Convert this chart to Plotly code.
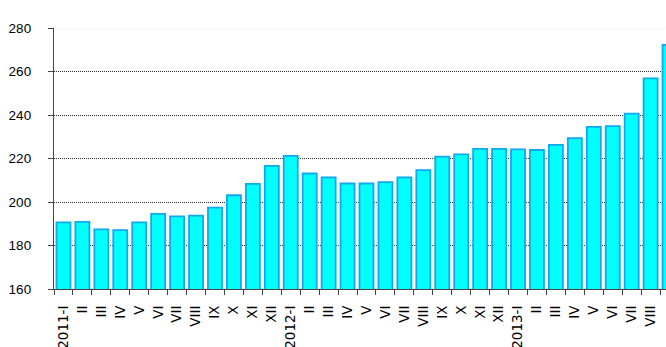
import plotly.graph_objects as go

roman = ["I", "II", "III", "IV", "V", "VI", "VII", "VIII", "IX", "X", "XI", "XII"]
years = ["2011", "2012", "2013"]

values_2011 = [190.6, 190.9, 187.4, 187.1, 190.6, 194.5, 193.4, 193.7, 197.4, 203.1, 208.3, 216.6]
values_2012 = [221.2, 213.1, 211.3, 208.5, 208.5, 209.1, 211.3, 214.7, 220.9, 221.9, 224.4, 224.4]
values_2013 = [224.2, 223.9, 226.3, 229.4, 234.5, 234.9, 240.6, 256.8, 272.2]

keys = []
labels = []
vals = []
for y, series in zip(years, [values_2011, values_2012, values_2013]):
    for i, v in enumerate(series):
        keys.append(f"{y}-{roman[i]}")
        labels.append(f"{y}-{roman[i]}" if i == 0 else roman[i])
        vals.append(v)

y_ticks = [160, 180, 200, 220, 240, 260, 280]

fig = go.Figure(go.Bar(
    x=keys, y=vals, width=0.74,
    marker=dict(color="#00FFFF", line=dict(color="#10A8F0", width=1.8)),
))

W, H = 666, 347
L, T = 54, 28
B = H - 289
plot_w = W - L
cat_w = 18.94
x_end = plot_w / cat_w - 0.5

fig.update_layout(
    width=W, height=H,
    margin=dict(l=L, r=0, t=T, b=B, autoexpand=False),
    paper_bgcolor="white", plot_bgcolor="white",
    font=dict(family="Liberation Sans, Arial, sans-serif", size=13, color="black"),
    showlegend=False,
    xaxis=dict(
        type="category", range=[-0.5, x_end],
        tickmode="array", tickvals=keys, ticktext=labels,
        tickangle=-90, tickson="boundaries",
        ticks="outside", ticklen=5, tickcolor="#444444", tickwidth=1,
        showline=True, linecolor="#444444", linewidth=1.3,
        showgrid=False, automargin=False, ticklabelstandoff=10,
        tickfont=dict(family="DejaVu Sans, sans-serif", size=13.5),
    ),
    yaxis=dict(
        range=[160, 280], tickvals=y_ticks,
        ticks="outside", ticklen=5, tickcolor="#444444",
        showline=True, linecolor="#444444", linewidth=1.3,
        showgrid=True, gridcolor="#333333", griddash="1px,1px", gridwidth=1,
        zeroline=False, automargin=False, ticklabelstandoff=14,
        tickfont=dict(family="Liberation Sans, Arial, sans-serif", size=13.5),
    ),
    shapes=[
        dict(type="line", xref="paper", yref="y", x0=0, x1=1, y0=280, y1=280,
             line=dict(color="white", width=2), layer="above"),
        dict(type="line", xref="paper", yref="y", x0=0, x1=1, y0=280, y1=280,
             line=dict(color="#e0e0e0", width=1, dash="1px,1px"), layer="above"),
    ],
)

fig.write_html(
    "out.html",
    config={"displayModeBar": False},
    post_script="document.body.style.margin='0';document.body.style.overflow='hidden';",
)
